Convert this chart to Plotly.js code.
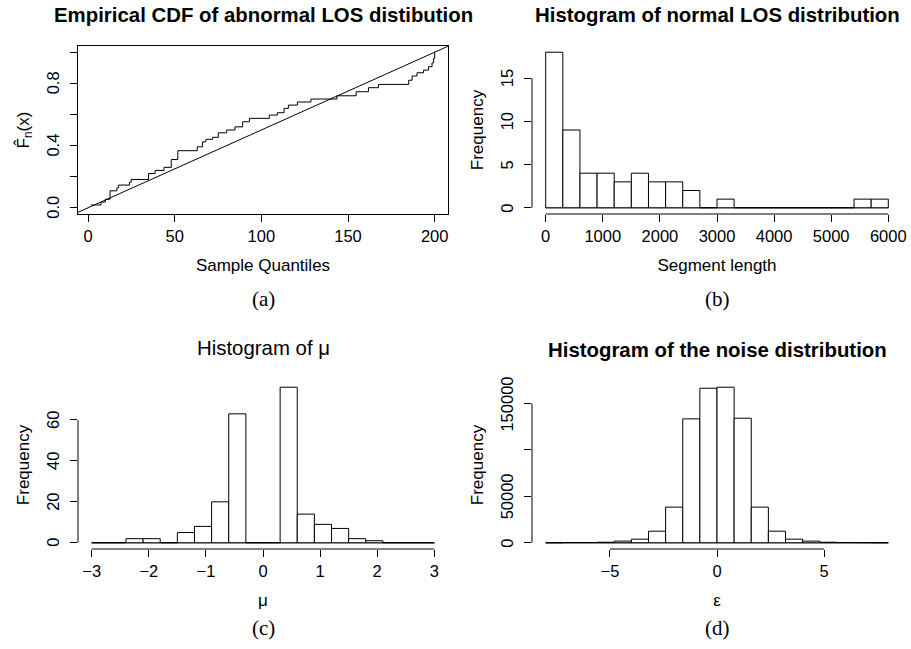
<!DOCTYPE html>
<html>
<head>
<meta charset="utf-8">
<script src="https://cdn.plot.ly/plotly-3.0.1.min.js"></script>
<style>html,body{margin:0;padding:0;background:#fff;}#chart{width:911px;height:649px;}</style>
</head>
<body>
<div id="chart"></div>
<script>
// (a) Empirical CDF of abnormal LOS distribution: jump locations and levels
var ecdfX = [1.7, 7.5, 10, 12.7, 16.6, 17.6, 23.9, 24.9, 34.9, 38.7, 43.8, 48, 51.8, 63, 66.1, 68, 71.9, 75.2, 80, 84.8, 89.2, 93.1, 104.6, 109.2, 113.1, 115.6, 120.8, 128.6, 143.6, 154.7, 161.8, 167.6, 185, 187, 189.8, 193.6, 196.5, 198.5, 199.4, 200];
var ecdfY = [0.018, 0.037, 0.055, 0.109, 0.128, 0.146, 0.164, 0.182, 0.22, 0.24, 0.26, 0.31, 0.367, 0.392, 0.424, 0.44, 0.453, 0.482, 0.5, 0.52, 0.553, 0.575, 0.596, 0.611, 0.639, 0.66, 0.68, 0.699, 0.72, 0.746, 0.772, 0.793, 0.82, 0.847, 0.868, 0.885, 0.907, 0.932, 0.96, 1.0];
var ecdfMax = 200; // uniform reference line y = x / max
var aTicksX = [0, 50, 100, 150, 200];
var aTicksY = [0, 0.4, 0.8];
var aTickTextY = ['0.0', '0.4', '0.8'];
var aMinorY = [0.2, 0.6, 1.0];

// (b) Histogram of normal LOS distribution
var bBreaks = [0, 300, 600, 900, 1200, 1500, 1800, 2100, 2400, 2700, 3000, 3300, 3600, 3900, 4200, 4500, 4800, 5100, 5400, 5700, 6000];
var bCounts = [18, 9, 4, 4, 3, 4, 3, 3, 2, 0, 1, 0, 0, 0, 0, 0, 0, 0, 1, 1];
var bTicksX = [0, 1000, 2000, 3000, 4000, 5000, 6000];
var bTicksY = [0, 5, 10, 15];

// (c) Histogram of mu
var cBreaks = [-3.0, -2.7, -2.4, -2.1, -1.8, -1.5, -1.2, -0.9, -0.6, -0.3, 0.0, 0.3, 0.6, 0.9, 1.2, 1.5, 1.8, 2.1, 2.4, 2.7, 3.0];
var cCounts = [0, 0, 2, 2, 0, 5, 8, 20, 63, 0, 0, 76, 14, 9, 7, 2, 1, 0, 0, 0];
var cTicksX = [-3, -2, -1, 0, 1, 2, 3];
var cTicksY = [0, 20, 40, 60];

// (d) Histogram of the noise distribution
var dBreaks = [-8.0, -7.2, -6.4, -5.6, -4.8, -4.0, -3.2, -2.4, -1.6, -0.8, 0.0, 0.8, 1.6, 2.4, 3.2, 4.0, 4.8, 5.6, 6.4, 7.2, 8.0];
var dCounts = [0, 300, 300, 600, 1800, 3900, 12500, 38400, 133500, 166500, 167600, 134200, 38400, 12500, 3900, 1800, 600, 300, 200, 0];
var dTicksX = [-5, 0, 5];
var dTicksY = [0, 50000, 150000];
var dMinorY = [100000];

var titles = ['Empirical CDF of abnormal LOS distibution', 'Histogram of normal LOS distribution', 'Histogram of \u03bc', 'Histogram of the noise distribution'];
var captions = ['(a)', '(b)', '(c)', '(d)'];

var W = 911, H = 649;
var FONT = 'Liberation Sans, Arial, sans-serif';
var tickFont = {family: FONT, size: 16.5, color: '#000'};
var labFont = {family: FONT, size: 17, color: '#000'};

function px(v) { return v / W; }
function py(v) { return 1 - v / H; }

function histTrace(breaks, counts, xa, ya) {
  var xs = [], ws = [];
  for (var i = 0; i < counts.length; i++) {
    xs.push((breaks[i] + breaks[i + 1]) / 2);
    ws.push(breaks[i + 1] - breaks[i]);
  }
  return {type: 'bar', x: xs, y: counts, width: ws, xaxis: xa, yaxis: ya,
    marker: {color: '#fff', line: {color: '#000', width: 1}}, hoverinfo: 'x+y', showlegend: false};
}

var diagX = [-20, 220];
var diagY = diagX.map(function (v) { return v / ecdfMax; });

var data = [
  {type: 'scatter', mode: 'lines', x: ecdfX, y: ecdfY, line: {shape: 'hv', color: '#000', width: 1}, xaxis: 'x', yaxis: 'y', showlegend: false},
  {type: 'scatter', mode: 'lines', x: diagX, y: diagY, line: {color: '#000', width: 1}, xaxis: 'x', yaxis: 'y', showlegend: false},
  histTrace(bBreaks, bCounts, 'x2', 'y2'),
  histTrace(cBreaks, cCounts, 'x3', 'y3'),
  histTrace(dBreaks, dCounts, 'x4', 'y4')
];

function xax(domain, range, tickvals, title, anchor, boxed) {
  return {domain: domain, range: range, tickmode: 'array', tickvals: tickvals,
    ticks: 'outside', ticklen: 7, tickwidth: 1, tickcolor: '#000', tickfont: tickFont,
    showgrid: false, zeroline: false, showline: !!boxed, mirror: boxed ? true : false,
    linecolor: '#000', linewidth: 1, anchor: anchor, fixedrange: true,
    title: {text: title, font: labFont, standoff: 15}, automargin: false};
}
function yax(domain, range, tickvals, minorvals, title, anchor, boxed) {
  var ax = {domain: domain, range: range, tickmode: 'array', tickvals: tickvals,
    showticklabels: false,
    ticks: 'outside', ticklen: 7, tickwidth: 1, tickcolor: '#000',
    showgrid: false, zeroline: false, showline: !!boxed, mirror: boxed ? true : false,
    linecolor: '#000', linewidth: 1, anchor: anchor, fixedrange: true,
    title: {text: title, font: labFont, standoff: 36}, automargin: false};
  if (minorvals) {
    ax.minor = {tickmode: 'array', tickvals: minorvals, ticks: 'outside', ticklen: 7, tickwidth: 1, tickcolor: '#000', showgrid: false};
  }
  return ax;
}

var topDom = [py(214), py(46)];
var botDom = [py(549), py(381)];
var leftDom = [px(78), px(448)];
var rightDom = [px(532), px(902)];

var layout = {
  width: W, height: H, margin: {l: 0, r: 0, t: 0, b: 0},
  paper_bgcolor: '#fff', plot_bgcolor: '#fff', showlegend: false,
  bargap: 0,
  xaxis: xax(leftDom, [-5.8, 207.7], aTicksX, 'Sample Quantiles', 'y', true),
  yaxis: yax(topDom, [-0.04, 1.04], aTicksY, aMinorY, 'F\u0302<sub>n</sub>(x)', 'x', true),
  xaxis2: xax(rightDom, [-240, 6240], bTicksX, 'Segment length', 'y2', false),
  yaxis2: yax(topDom, [-0.72, 18.72], bTicksY, null, 'Frequency', 'x2', false),
  xaxis3: xax(leftDom, [-3.24, 3.24], cTicksX, '\u03bc', 'y3', false),
  yaxis3: yax(botDom, [-3.04, 79.04], cTicksY, null, 'Frequency', 'x3', false),
  xaxis4: xax(rightDom, [-8.64, 8.64], dTicksX, '\u03b5', 'y4', false),
  yaxis4: yax(botDom, [-6704, 174304], dTicksY, dMinorY, 'Frequency', 'x4', false),
  shapes: [],
  annotations: []
};

// R-style axis lines (first tick to last tick) and histogram baselines
var hist = [
  {xa: 'x2', ya: 'y2', tx: bTicksX, ty: bTicksY, br: bBreaks},
  {xa: 'x3', ya: 'y3', tx: cTicksX, ty: cTicksY, br: cBreaks},
  {xa: 'x4', ya: 'y4', tx: dTicksX, ty: dTicksY, br: dBreaks}
];
hist.forEach(function (h) {
  var ln = {color: '#000', width: 1};
  layout.shapes.push({type: 'line', xref: h.xa, yref: h.ya + ' domain', x0: h.tx[0], x1: h.tx[h.tx.length - 1], y0: 0, y1: 0, line: ln});
  layout.shapes.push({type: 'line', xref: h.xa + ' domain', yref: h.ya, x0: 0, x1: 0, y0: h.ty[0], y1: h.ty[h.ty.length - 1], line: ln});
  layout.shapes.push({type: 'line', xref: h.xa, yref: h.ya, x0: h.br[0], x1: h.br[h.br.length - 1], y0: 0, y1: 0, line: ln, layer: 'below'});
});

// R-style vertical y tick labels, placed along each y axis
var yLabelSets = [
  {ya: 'y', vals: aTicksY, text: aTickTextY, axisX: 78},
  {ya: 'y2', vals: bTicksY, text: null, axisX: 532},
  {ya: 'y3', vals: cTicksY, text: null, axisX: 78},
  {ya: 'y4', vals: dTicksY, text: null, axisX: 532}
];
yLabelSets.forEach(function (s) {
  s.vals.forEach(function (v, k) {
    layout.annotations.push({xref: 'paper', yref: s.ya, x: px(s.axisX - 25), y: v,
      xanchor: 'center', yanchor: 'middle', textangle: -90, showarrow: false,
      text: s.text ? s.text[k] : String(v), font: tickFont});
  });
});

var titleY = [15, 15, 348, 350];
var centersX = [263, 717, 263, 717];
var captionY = [299, 299, 628, 628];
for (var i = 0; i < 4; i++) {
  var bold = (i !== 2);
  layout.annotations.push({xref: 'paper', yref: 'paper', x: px(centersX[i]), y: py(titleY[i]),
    xanchor: 'center', yanchor: 'middle', showarrow: false,
    text: bold ? '<b>' + titles[i] + '</b>' : titles[i],
    font: {family: FONT, size: 20.4, color: '#000'}});
  layout.annotations.push({xref: 'paper', yref: 'paper', x: px(centersX[i]), y: py(captionY[i]),
    xanchor: 'center', yanchor: 'middle', showarrow: false, text: captions[i],
    font: {family: 'Liberation Serif, DejaVu Serif, serif', size: 21, color: '#000'}});
}

Plotly.newPlot('chart', data, layout, {staticPlot: true, displayModeBar: false});
</script>
</body>
</html>
